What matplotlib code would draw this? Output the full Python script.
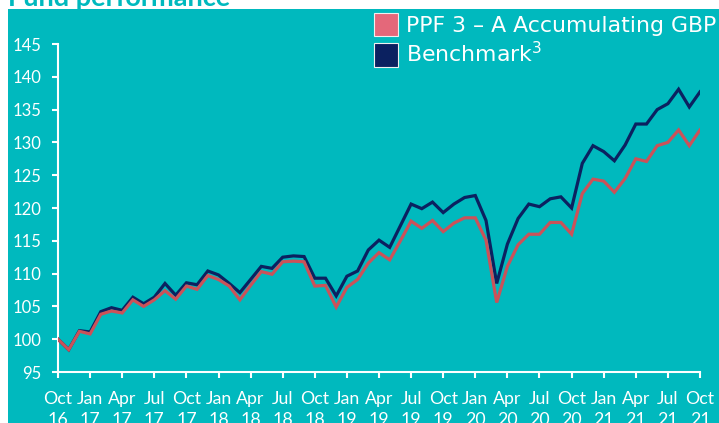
import matplotlib
matplotlib.use('Agg')
import matplotlib.pyplot as plt
from matplotlib.patches import Rectangle

# ---- data ----
months = list(range(61))  # Oct 2016 .. Oct 2021, monthly
fund = [100.0, 98.4, 101.2, 100.8, 103.8, 104.3, 104.0, 106.0, 105.0, 106.0,
        107.4, 106.1, 108.1, 107.6, 109.7, 109.1, 108.1, 106.0, 108.2, 110.3,
        109.9, 111.8, 111.9, 111.8, 108.1, 108.2, 104.9, 107.9, 109.1, 111.6,
        113.2, 112.1, 115.0, 118.0, 116.9, 118.1, 116.4, 117.7, 118.5, 118.5,
        115.1, 105.6, 111.1, 114.4, 116.0, 116.0, 117.8, 117.8, 116.0, 122.2,
        124.4, 124.1, 122.4, 124.5, 127.5, 127.1, 129.5, 130.0, 131.9, 129.5,
        131.9]
bench = [100.0, 98.4, 101.3, 101.1, 104.2, 104.8, 104.4, 106.4, 105.4, 106.4,
         108.5, 106.7, 108.6, 108.3, 110.4, 109.8, 108.5, 107.1, 109.1, 111.1,
         110.8, 112.5, 112.7, 112.6, 109.3, 109.3, 106.6, 109.6, 110.4, 113.6,
         115.1, 114.0, 117.3, 120.6, 119.9, 120.9, 119.3, 120.6, 121.6, 121.9,
         118.1, 108.5, 114.5, 118.4, 120.6, 120.2, 121.4, 121.7, 120.0, 126.8,
         129.5, 128.6, 127.2, 129.6, 132.8, 132.8, 135.0, 135.9, 138.1, 135.4,
         137.7]
tick_pos = list(range(0, 61, 3))
tick_mon = ['Oct', 'Jan', 'Apr', 'Jul'] * 5 + ['Oct']
tick_yr = ['16', '17', '17', '17', '17', '18', '18', '18', '18', '19', '19',
           '19', '19', '20', '20', '20', '20', '21', '21', '21', '21']
y_ticks = [95, 100, 105, 110, 115, 120, 125, 130, 135, 140, 145]
series_names = ['PPF 3 \u2013 A Accumulating GBP', 'Benchmark$^3$']
title = 'Fund performance'

# ---- style ----
TEAL = '#00B9BE'
RED = '#CB5259'
RED_PATCH = '#E4687A'
NAVY = '#0B2160'
W, H = 719, 423
plt.rcParams['font.family'] = ['Lato', 'DejaVu Sans']

fig = plt.figure(figsize=(W / 100, H / 100), dpi=100, facecolor='white')

# title (partially hidden at top)
fig.text(8 / W, 1 - 5.5 / H, title, color=TEAL, fontsize=19.5, fontweight='bold',
         va='baseline', ha='left', zorder=-2)
# teal panel
fig.add_artist(Rectangle((8 / W, 0), 1 - 8 / W, 1 - 9 / H, transform=fig.transFigure,
                         facecolor=TEAL, edgecolor='none', zorder=-1))

ax = fig.add_axes([58 / W, 1 - 372 / H, (700 - 58) / W, (372 - 44) / H])
ax.set_facecolor('none')
ax.plot(months, bench, color=NAVY, lw=2.3, solid_joinstyle='miter', zorder=3)
ax.plot(months, fund, color=RED, lw=2.3, solid_joinstyle='miter', zorder=4)

ax.set_xlim(0, 60)
ax.set_ylim(95, 145)
for s in ['top', 'right']:
    ax.spines[s].set_visible(False)
for s in ['left', 'bottom']:
    ax.spines[s].set_color('white')
    ax.spines[s].set_linewidth(1.5)
ax.set_yticks(y_ticks)
ax.set_xticks(tick_pos)
ax.set_xticklabels([f'{m}\n{y}' for m, y in zip(tick_mon, tick_yr)], linespacing=1.4)
ax.tick_params(axis='both', colors='white', labelcolor='white', labelsize=12,
               width=1.5, length=4.5)
ax.tick_params(axis='x', labelsize=12.8, pad=9)
ax.tick_params(axis='y', pad=7.5)

# legend (manual squares + text)
for i, (name, pc) in enumerate(zip(series_names, [RED_PATCH, NAVY])):
    top = 13 + i * 30
    fig.add_artist(Rectangle((374 / W, 1 - (top + 23.5) / H), 23.5 / W, 23.5 / H,
                             transform=fig.transFigure, facecolor=pc,
                             edgecolor='#F0F0F0', linewidth=0.8, zorder=5))
    fig.text(406 / W, 1 - (top + 19) / H, name, color='white', fontsize=15.8,
             family='DejaVu Sans', va='baseline', ha='left', zorder=5)

fig.savefig('out.png', dpi=100, facecolor='white')
